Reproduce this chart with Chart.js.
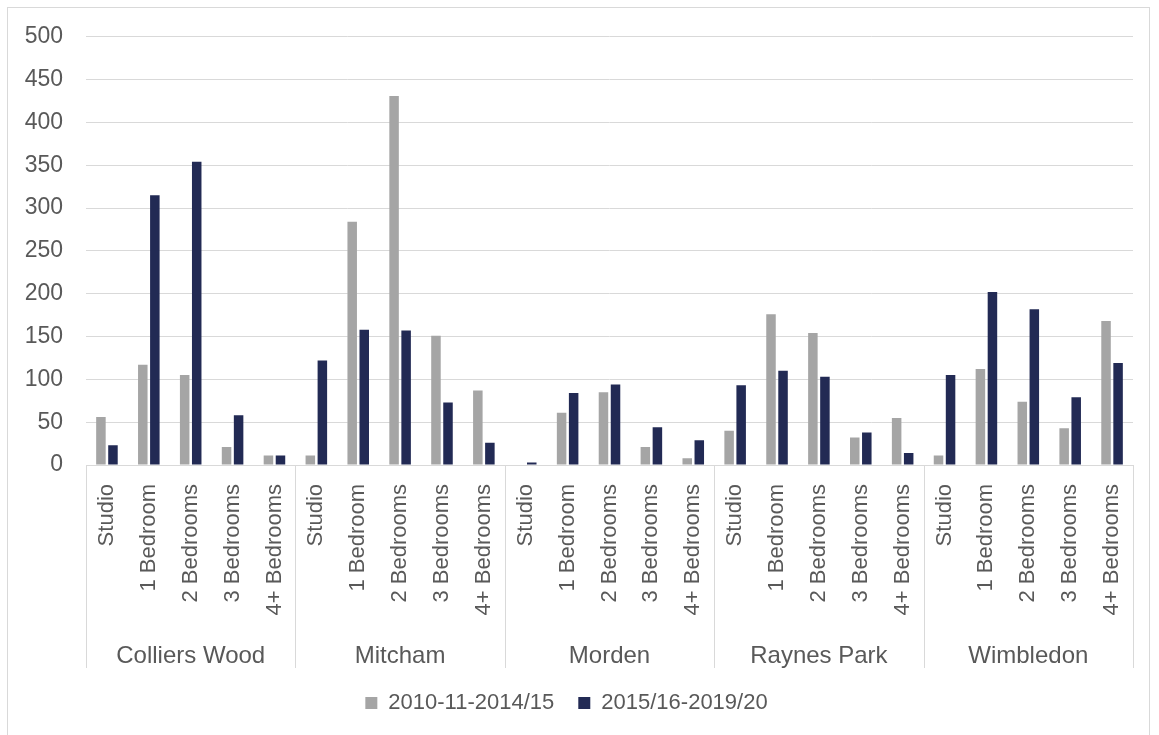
<!DOCTYPE html>
<html>
<head>
<meta charset="utf-8">
<title>Completions by area and size</title>
<script src="https://cdn.jsdelivr.net/npm/chart.js@4.4.1/dist/chart.umd.min.js"></script>
<style>
  html, body { margin: 0; padding: 0; background: #fff; overflow: hidden; }
  #frame {
    position: absolute; left: 7px; top: 7px; width: 1143px; height: 800px;
    border: 1px solid #d9d9d9; box-sizing: border-box;
  }
  #wrap { position: absolute; left: 0; top: 0; width: 1159px; height: 724px; }
</style>
</head>
<body>
<div id="frame"></div>
<div id="wrap"><canvas id="chart"></canvas></div>
<script>
// areas and unit sizes (x axis has two levels)
const areas = ["Colliers Wood", "Mitcham", "Morden", "Raynes Park", "Wimbledon"];
const unitSizes = ["Studio", "1 Bedroom", "2 Bedrooms", "3 Bedrooms", "4+ Bedrooms"];

// values per area, in unitSizes order
const earlier = [
  56, 117, 105, 21, 11,    // Colliers Wood
  11, 284, 431, 151, 87,   // Mitcham
  0, 61, 85, 21, 8,        // Morden
  40, 176, 154, 32, 55,    // Raynes Park
  11, 112, 74, 43, 168     // Wimbledon
];
const later = [
  23, 315, 354, 58, 11,
  122, 158, 157, 73, 26,
  3, 84, 94, 44, 29,
  93, 110, 103, 38, 14,
  105, 202, 182, 79, 119
];
const seriesNames = ["2010-11-2014/15", "2015/16-2019/20"];
const yTicks = [0, 50, 100, 150, 200, 250, 300, 350, 400, 450, 500];

const labels = [];
areas.forEach(() => unitSizes.forEach(s => labels.push(s)));

const textColor = "#595959";
const lineColor = "#d9d9d9";
Chart.defaults.font.family = "'Liberation Sans', Arial, sans-serif";
Chart.defaults.font.size = 22;
Chart.defaults.color = textColor;

// vertical separators between the areas, from the axis down through both label rows
const groupLines = {
  id: "groupLines",
  afterDraw(chart) {
    const xs = chart.scales.x;
    const x2 = chart.scales.x2;
    const step = xs.getPixelForValue(1) - xs.getPixelForValue(0);
    const ctx = chart.ctx;
    ctx.save();
    ctx.strokeStyle = lineColor;
    ctx.lineWidth = 1;
    for (let g = 0; g <= areas.length; g++) {
      const px = Math.round(xs.getPixelForValue(g * unitSizes.length) - step / 2) + 0.5;
      ctx.beginPath();
      ctx.moveTo(px, xs.top);
      ctx.lineTo(px, x2.bottom);
      ctx.stroke();
    }
    ctx.restore();
  }
};

new Chart(document.getElementById("chart"), {
  type: "bar",
  data: {
    labels: labels,
    datasets: [
      {
        label: seriesNames[0],
        data: earlier,
        backgroundColor: "#a5a5a5",
        xAxisID: "x",
        categoryPercentage: 0.575,
        barPercentage: 0.79
      },
      {
        label: seriesNames[1],
        data: later,
        backgroundColor: "#222a54",
        xAxisID: "x",
        categoryPercentage: 0.575,
        barPercentage: 0.79
      }
    ]
  },
  options: {
    responsive: true,
    maintainAspectRatio: false,
    animation: false,
    layout: { padding: { top: 36, right: 26, left: 0, bottom: 0 } },
    plugins: {
      tooltip: { enabled: false },
      legend: {
        position: "bottom",
        labels: {
          boxWidth: 12,
          boxHeight: 12,
          padding: 24,
          color: textColor,
          font: { size: 22 }
        }
      }
    },
    scales: {
      x: {
        position: "bottom",
        grid: { display: false },
        border: { display: true, color: lineColor, width: 1 },
        ticks: {
          autoSkip: false,
          minRotation: 90,
          maxRotation: 90,
          padding: 11,
          color: textColor
        },
        afterFit(scale) { scale.height = 160; }
      },
      x2: {
        type: "category",
        position: "bottom",
        labels: areas,
        offset: true,
        grid: { display: false },
        border: { display: false },
        ticks: { padding: 9, color: textColor, font: { size: 24 } },
        afterFit(scale) { scale.height = 43; }
      },
      y: {
        min: 0,
        max: 500,
        afterBuildTicks(scale) { scale.ticks = yTicks.map(v => ({ value: v })); },
        grid: { color: lineColor, drawTicks: false },
        border: { display: false },
        ticks: { padding: 23, color: textColor, font: { size: 23 } },
        afterFit(scale) { scale.width = 86; }
      }
    }
  },
  plugins: [groupLines]
});
</script>
</body>
</html>
